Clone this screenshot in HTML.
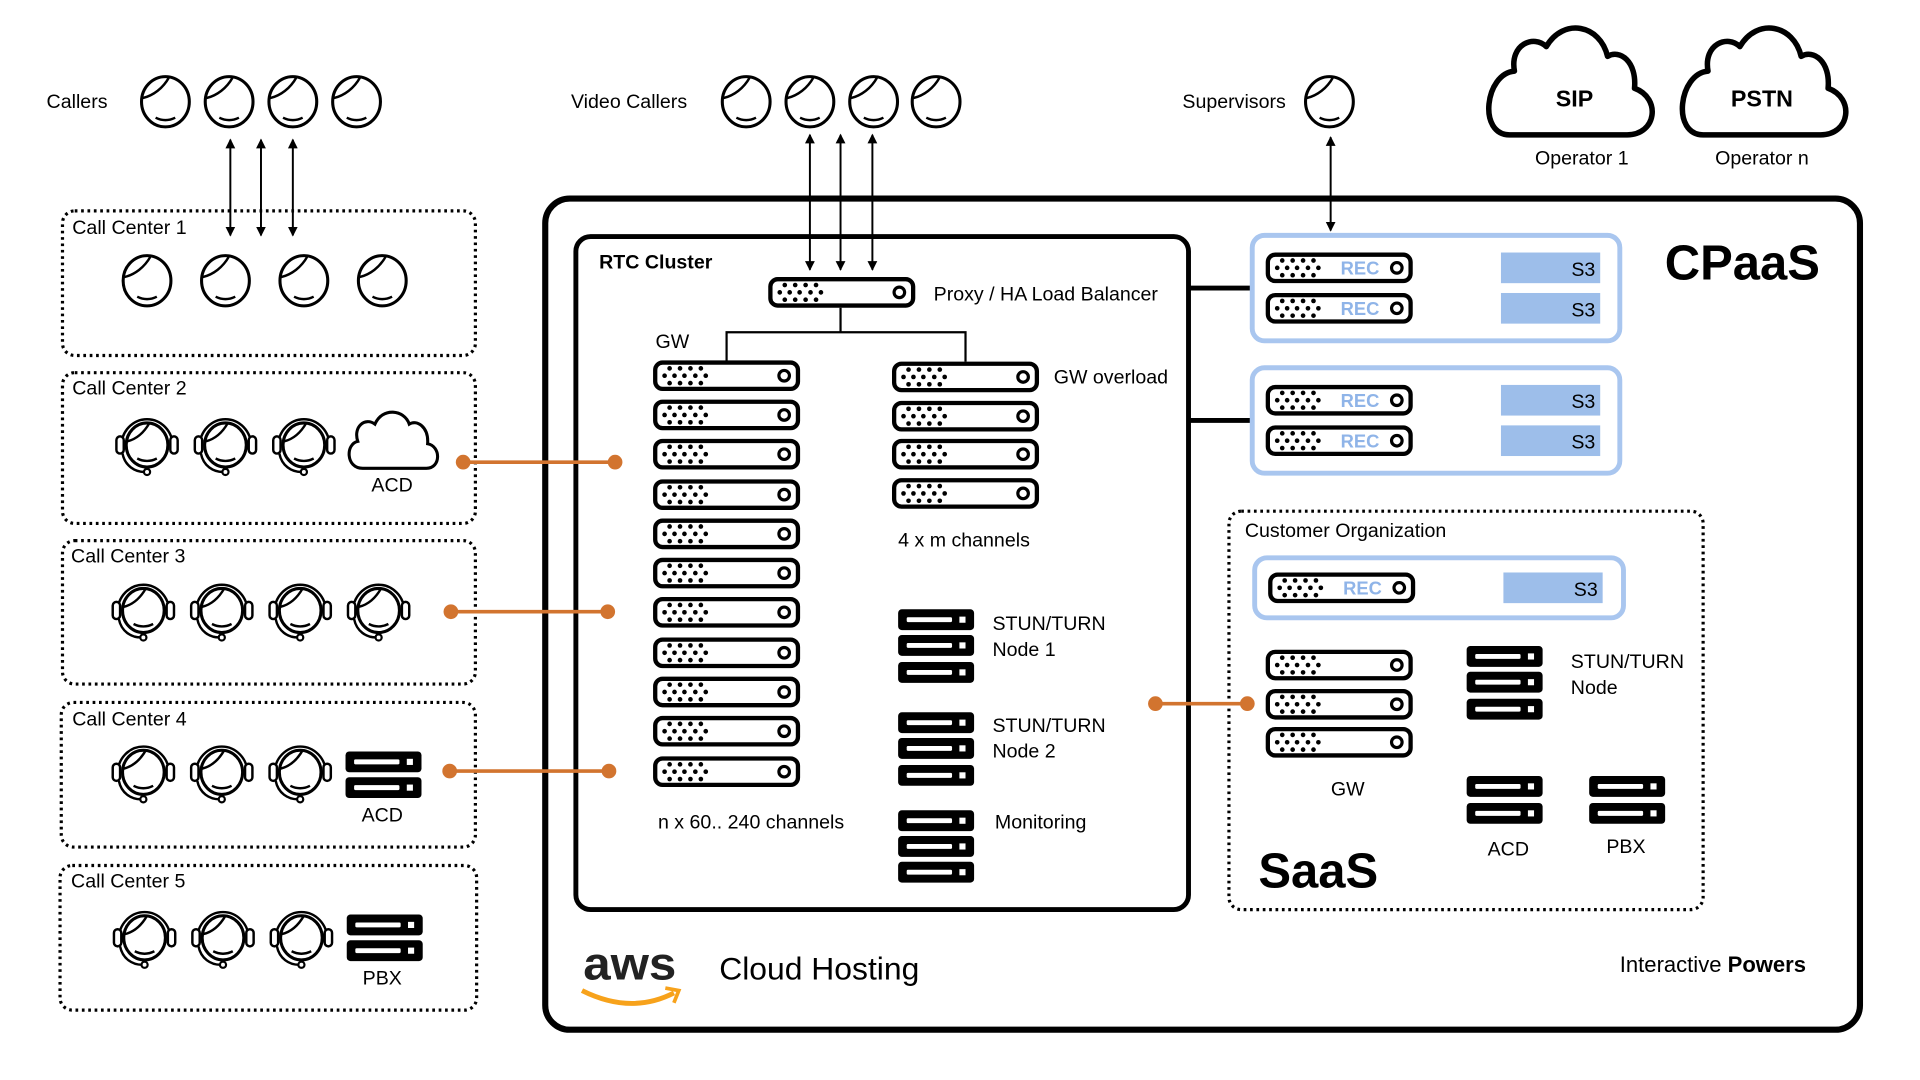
<!DOCTYPE html>
<html><head><meta charset="utf-8"><style>
html,body{margin:0;padding:0;background:#fff;}
svg{display:block;}
text{font-family:"Liberation Sans",Arial,sans-serif;fill:#000;}
</style></head><body>
<svg width="1920" height="1080" viewBox="0 0 1567 881" preserveAspectRatio="none" xmlns="http://www.w3.org/2000/svg">
<defs>
<marker id="ah" markerWidth="8" markerHeight="8" refX="7" refY="4" orient="auto-start-reverse" markerUnits="userSpaceOnUse">
<path d="M0,0 L8,4 L0,8 Z" fill="#000"/></marker>
<symbol id="srv" viewBox="0 0 120 25" width="120" height="25" overflow="visible">
<rect x="1.75" y="1.75" width="116.5" height="21.5" rx="6" fill="#fff" stroke="#000" stroke-width="3.5"/>
<g fill="#000">
<circle cx="13.5" cy="6.5" r="1.9"/><circle cx="22" cy="6.5" r="1.9"/><circle cx="30.5" cy="6.5" r="1.9"/><circle cx="39" cy="6.5" r="1.9"/>
<circle cx="9.4" cy="12.5" r="1.9"/><circle cx="17.5" cy="12.5" r="1.9"/><circle cx="25.6" cy="12.5" r="1.9"/><circle cx="34.5" cy="12.5" r="1.9"/><circle cx="43" cy="12.5" r="1.9"/>
<circle cx="13.5" cy="18.5" r="1.9"/><circle cx="22" cy="18.5" r="1.9"/><circle cx="30.5" cy="18.5" r="1.9"/><circle cx="39" cy="18.5" r="1.9"/>
</g>
<circle cx="107" cy="12.5" r="4.3" fill="none" stroke="#000" stroke-width="2.6"/>
</symbol>
<symbol id="blk" width="62" height="17" overflow="visible">
<rect x="0" y="0" width="62" height="17" rx="3" fill="#000"/>
<rect x="7" y="6.5" width="37" height="4" rx="1" fill="#fff"/>
<rect x="50" y="6" width="5" height="5" fill="#fff"/>
</symbol>
<symbol id="face" width="44" height="46" overflow="visible">
<ellipse cx="22" cy="23" rx="19.5" ry="20.5" fill="#fff" stroke="#000" stroke-width="2.5"/>
<path d="M3.5,20 C12,18 20,12 25,3" fill="none" stroke="#000" stroke-width="2"/>
<path d="M14,36 Q22,40 30,36" fill="none" stroke="#000" stroke-width="2"/>
</symbol>
<symbol id="agent" width="60" height="56" overflow="visible">
<path d="M9,28 A21,22 0 0 1 51,28" fill="none" stroke="#000" stroke-width="2"/>
<ellipse cx="30" cy="27" rx="17" ry="18" fill="#fff" stroke="#000" stroke-width="2.5"/>
<path d="M14,24 C22,22 28,16 32,9" fill="none" stroke="#000" stroke-width="2"/>
<path d="M22,38 Q30,42 38,38" fill="none" stroke="#000" stroke-width="2"/>
<rect x="5" y="20" width="6" height="14" rx="3" fill="#fff" stroke="#000" stroke-width="2"/>
<rect x="49" y="20" width="6" height="14" rx="3" fill="#fff" stroke="#000" stroke-width="2"/>
<path d="M10,34 C12,44 20,49 28,49" fill="none" stroke="#000" stroke-width="2"/>
<circle cx="30" cy="49" r="2.5" fill="#fff" stroke="#000" stroke-width="1.8"/>
</symbol>
</defs>

<text x="38" y="88" font-size="16">Callers</text>
<use href="#face" x="113" y="60"/><use href="#face" x="165" y="60"/><use href="#face" x="217" y="60"/><use href="#face" x="269" y="60"/>
<text x="466" y="88" font-size="16">Video Callers</text>
<use href="#face" x="587" y="60"/><use href="#face" x="639" y="60"/><use href="#face" x="691" y="60"/><use href="#face" x="742" y="60"/>
<text x="965" y="88" font-size="16">Supervisors</text>
<use href="#face" x="1063" y="60"/>

<g stroke="#000" stroke-width="1.6" marker-start="url(#ah)" marker-end="url(#ah)">
<line x1="188" y1="114" x2="188" y2="192"/><line x1="213" y1="114" x2="213" y2="192"/><line x1="239" y1="114" x2="239" y2="192"/>
<line x1="661" y1="110" x2="661" y2="220"/><line x1="686" y1="110" x2="686" y2="220"/><line x1="712" y1="110" x2="712" y2="220"/>
<line x1="1086" y1="112" x2="1086" y2="188"/>
</g>

<g fill="#fff" stroke="#000" stroke-width="4.5" stroke-linejoin="round">
<path d="M1232,110 H1328 C1352,110 1356,80 1334,72 C1336,50 1322,40 1312,46 C1306,20 1276,14 1262,38 C1252,28 1232,36 1236,58 C1212,60 1206,110 1232,110 Z"/>
<path d="M1390,110 H1486 C1510,110 1514,80 1492,72 C1494,50 1480,40 1470,46 C1464,20 1434,14 1420,38 C1410,28 1390,36 1394,58 C1370,60 1364,110 1390,110 Z"/>
</g>
<text x="1285" y="87" font-size="19" font-weight="bold" text-anchor="middle">SIP</text>
<text x="1438" y="87" font-size="19" font-weight="bold" text-anchor="middle">PSTN</text>
<text x="1291" y="134" font-size="16" text-anchor="middle">Operator 1</text>
<text x="1438" y="134" font-size="16" text-anchor="middle">Operator n</text>

<g fill="none" stroke="#000" stroke-width="2.6" stroke-dasharray="2.2 3">
<rect x="51" y="172" width="337" height="118" rx="10"/>
<rect x="51" y="304" width="337" height="123" rx="10"/>
<rect x="51" y="441" width="337" height="117" rx="10"/>
<rect x="50" y="573" width="338" height="118" rx="10"/>
<rect x="49" y="706" width="340" height="118" rx="10"/>
</g>
<text x="59" y="191" font-size="16">Call Center 1</text>
<use href="#face" x="98" y="206"/><use href="#face" x="162" y="206"/><use href="#face" x="226" y="206"/><use href="#face" x="290" y="206"/>

<text x="59" y="322" font-size="16">Call Center 2</text>
<use href="#agent" x="90" y="336"/><use href="#agent" x="154" y="336"/><use href="#agent" x="218" y="336"/>
<path d="M296,382 H348 C360,382 360,364 349,362 C350,348 340,342 334,346 C330,334 312,332 306,346 C298,340 288,348 292,360 C282,362 282,382 296,382 Z" fill="#fff" stroke="#000" stroke-width="2.5"/>
<text x="320" y="401" font-size="16" text-anchor="middle">ACD</text>

<text x="58" y="459" font-size="16">Call Center 3</text>
<use href="#agent" x="87" y="471"/><use href="#agent" x="151" y="471"/><use href="#agent" x="215" y="471"/><use href="#agent" x="279" y="471"/>

<text x="59" y="592" font-size="16">Call Center 4</text>
<use href="#agent" x="87" y="603"/><use href="#agent" x="151" y="603"/><use href="#agent" x="215" y="603"/>
<use href="#blk" x="282" y="613"/><use href="#blk" x="282" y="634"/>
<text x="312" y="670" font-size="16" text-anchor="middle">ACD</text>

<text x="58" y="724" font-size="16">Call Center 5</text>
<use href="#agent" x="88" y="738"/><use href="#agent" x="152" y="738"/><use href="#agent" x="216" y="738"/>
<use href="#blk" x="283" y="746"/><use href="#blk" x="283" y="767"/>
<text x="312" y="803" font-size="16" text-anchor="middle">PBX</text>

<rect x="445" y="162" width="1073" height="678" rx="20" fill="none" stroke="#000" stroke-width="5"/>
<text x="1422" y="228" font-size="40" font-weight="bold" text-anchor="middle">CPaaS</text>

<rect x="470" y="193" width="500" height="549" rx="12" fill="none" stroke="#000" stroke-width="4"/>
<text x="489" y="219" font-size="16" font-weight="bold">RTC Cluster</text>
<use href="#srv" x="627" y="226"/>
<text x="762" y="245" font-size="16">Proxy / HA Load Balancer</text>
<path d="M686,251 V271 M593,295 V271 H788 V295" fill="none" stroke="#000" stroke-width="1.8"/>
<text x="535" y="284" font-size="16">GW</text>
<use href="#srv" x="533" y="294"/><use href="#srv" x="533" y="326"/><use href="#srv" x="533" y="358"/><use href="#srv" x="533" y="391"/>
<use href="#srv" x="533" y="423"/><use href="#srv" x="533" y="455"/><use href="#srv" x="533" y="487"/><use href="#srv" x="533" y="520"/>
<use href="#srv" x="533" y="552"/><use href="#srv" x="533" y="584"/><use href="#srv" x="533" y="617"/>
<use href="#srv" x="728" y="295"/><use href="#srv" x="728" y="327"/><use href="#srv" x="728" y="358"/><use href="#srv" x="728" y="390"/>
<text x="860" y="313" font-size="16">GW overload</text>
<text x="733" y="446" font-size="16">4 x m channels</text>
<text x="537" y="676" font-size="16">n x 60.. 240 channels</text>
<use href="#blk" x="733" y="497"/><use href="#blk" x="733" y="518"/><use href="#blk" x="733" y="540"/>
<text x="810" y="514" font-size="16">STUN/TURN</text><text x="810" y="535" font-size="16">Node 1</text>
<use href="#blk" x="733" y="581"/><use href="#blk" x="733" y="602"/><use href="#blk" x="733" y="624"/>
<text x="810" y="597" font-size="16">STUN/TURN</text><text x="810" y="618" font-size="16">Node 2</text>
<use href="#blk" x="733" y="661"/><use href="#blk" x="733" y="682"/><use href="#blk" x="733" y="703"/>
<text x="812" y="676" font-size="16">Monitoring</text>

<line x1="970" y1="235" x2="1022" y2="235" stroke="#000" stroke-width="4"/>
<line x1="970" y1="343" x2="1022" y2="343" stroke="#000" stroke-width="4"/>

<g fill="none" stroke="#a9c6ef" stroke-width="4">
<rect x="1022" y="192" width="300" height="86" rx="10"/>
<rect x="1022" y="300" width="300" height="86" rx="10"/>
<rect x="1024" y="455" width="301" height="49" rx="10"/>
</g>
<g fill="#9dbeea">
<rect x="1225" y="206" width="81" height="25"/><rect x="1225" y="239" width="81" height="25"/>
<rect x="1225" y="314" width="81" height="25"/><rect x="1225" y="347" width="81" height="25"/>
<rect x="1227" y="467" width="81" height="25"/>
</g>
<g font-size="16" text-anchor="end">
<text x="1302" y="225">S3</text><text x="1302" y="258">S3</text>
<text x="1302" y="333">S3</text><text x="1302" y="366">S3</text>
<text x="1304" y="486">S3</text>
</g>
<use href="#srv" x="1033" y="206"/><use href="#srv" x="1033" y="239"/>
<use href="#srv" x="1033" y="314"/><use href="#srv" x="1033" y="347"/>
<use href="#srv" x="1035" y="467"/>
<g font-size="15" font-weight="bold" text-anchor="middle">
<text x="1110" y="224" style="fill:#8fb4e8">REC</text><text x="1110" y="257" style="fill:#8fb4e8">REC</text>
<text x="1110" y="332" style="fill:#8fb4e8">REC</text><text x="1110" y="365" style="fill:#8fb4e8">REC</text>
<text x="1112" y="485" style="fill:#8fb4e8">REC</text>
</g>

<rect x="1003" y="417" width="387" height="325" rx="10" fill="none" stroke="#000" stroke-width="2.6" stroke-dasharray="2.2 3"/>
<text x="1016" y="438" font-size="16">Customer Organization</text>
<use href="#srv" x="1033" y="530"/><use href="#srv" x="1033" y="562"/><use href="#srv" x="1033" y="593"/>
<text x="1100" y="649" font-size="16" text-anchor="middle">GW</text>
<use href="#blk" x="1197" y="527"/><use href="#blk" x="1197" y="548"/><use href="#blk" x="1197" y="570"/>
<text x="1282" y="545" font-size="16">STUN/TURN</text><text x="1282" y="566" font-size="16">Node</text>
<use href="#blk" x="1197" y="633"/><use href="#blk" x="1197" y="655"/>
<text x="1231" y="698" font-size="16" text-anchor="middle">ACD</text>
<use href="#blk" x="1297" y="633"/><use href="#blk" x="1297" y="655"/>
<text x="1327" y="696" font-size="16" text-anchor="middle">PBX</text>
<text x="1027" y="724" font-size="40" font-weight="bold">SaaS</text>

<g stroke="#d2742f" stroke-width="3" fill="#d2742f">
<line x1="378" y1="377" x2="502" y2="377"/><circle cx="378" cy="377" r="6" stroke="none"/><circle cx="502" cy="377" r="6" stroke="none"/>
<line x1="368" y1="499" x2="496" y2="499"/><circle cx="368" cy="499" r="6" stroke="none"/><circle cx="496" cy="499" r="6" stroke="none"/>
<line x1="367" y1="629" x2="497" y2="629"/><circle cx="367" cy="629" r="6" stroke="none"/><circle cx="497" cy="629" r="6" stroke="none"/>
<line x1="943" y1="574" x2="1018" y2="574"/><circle cx="943" cy="574" r="6" stroke="none"/><circle cx="1018" cy="574" r="6" stroke="none"/>
</g>

<text x="476" y="799" font-size="38" font-weight="bold" style="fill:#222" textLength="76" lengthAdjust="spacingAndGlyphs">aws</text>
<path d="M475,808 Q515,828 550,810" fill="none" stroke="#f7a21b" stroke-width="4"/>
<path d="M543,806 L554,808 L550,818" fill="none" stroke="#f7a21b" stroke-width="3"/>
<text x="587" y="799" font-size="26">Cloud Hosting</text>
<text x="1322" y="793" font-size="18">Interactive <tspan font-weight="bold">Powers</tspan></text>
</svg>
</body></html>
